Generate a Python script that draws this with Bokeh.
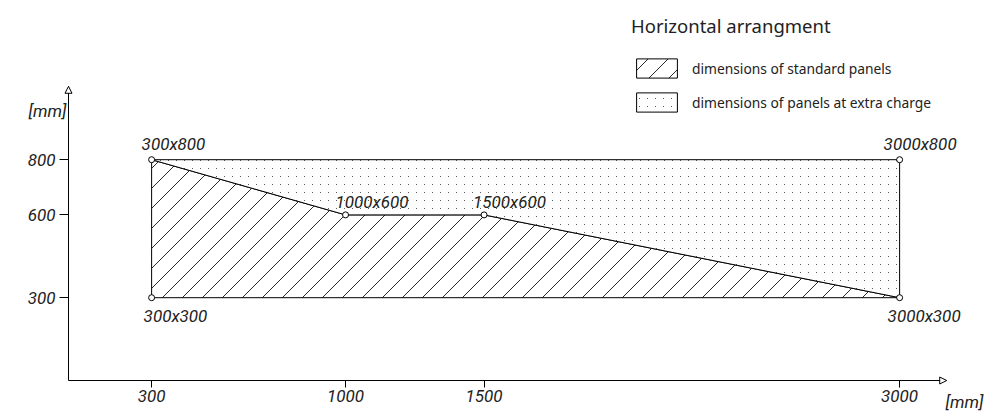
import zlib, struct, base64
from bokeh.plotting import figure
from bokeh.models import (Range1d, FixedTicker, Legend, LegendItem, Label, Arrow,
                          NormalHead, LinearAxis, ImageURLTexture)
from bokeh.core.properties import value
from bokeh.embed import file_html
from bokeh.resources import INLINE

# ---- data ----
x_ticks = [300, 1000, 1500, 3000]
y_ticks = [300, 600, 800]
standard_x = [300, 300, 1000, 1500, 3000]
standard_y = [300, 800, 600, 600, 300]
extra_x = [300, 3000, 3000, 1500, 1000]
extra_y = [800, 800, 300, 600, 600]
top_x = [300, 1000, 1500, 3000]
top_y = [800, 600, 600, 800]
top_labels = ["300x800", "1000x600", "1500x600", "3000x800"]
bottom_x = [300, 3000]
bottom_y = [300, 300]
bottom_labels = ["300x300", "3000x300"]
legend_title = "Horizontal arrangment"
series_names = ["dimensions of standard panels", "dimensions of panels at extra charge"]
axis_unit = "[mm]"
x_axis_end = 3170
y_axis_end = 1066

# ---- styles ----
top_dx = [-10, -10, -11, -16]
top_dy = [-16, -13, -13, -16]
bottom_dx = [-8, -12]
CADF = "Roboto"
CAD = value(CADF)
CAD_SIZE = "17px"
SANS = "Noto Sans"
INK = "#222222"

W, H = 995, 417
KX, KY = 0.27704, 0.276       # px per mm
OX, OY = 68, 380              # pixel position of the origin


def png_tile(size, on, rgba):
    """Small transparent PNG tile; pixels where on(row, col) is true get colour rgba."""
    rows = []
    for r in range(size):
        row = bytearray(b"\x00")
        for c in range(size):
            row += bytes(rgba) if on(r, c) else b"\x00\x00\x00\x00"
        rows.append(bytes(row))

    def chunk(t, d):
        return struct.pack(">I", len(d)) + t + d + struct.pack(">I", zlib.crc32(t + d) & 0xffffffff)

    png = (b"\x89PNG\r\n\x1a\n"
           + chunk(b"IHDR", struct.pack(">IIBBBBB", size, size, 8, 6, 0, 0, 0))
           + chunk(b"IDAT", zlib.compress(b"".join(rows)))
           + chunk(b"IEND", b""))
    return "data:image/png;base64," + base64.b64encode(png).decode()


diag_url = png_tile(20, lambda r, c: r + c == 19, (40, 40, 40, 255))
dots_url = png_tile(8, lambda r, c: r == 0 and c == 0, (90, 90, 90, 255))

p = figure(width=W, height=H, output_backend="svg", toolbar_location=None,
           x_range=Range1d(-OX / KX, (W - OX) / KX),
           y_range=Range1d(-(H - OY) / KY, OY / KY),
           x_axis_location=None, y_axis_location=None,
           min_border=0, outline_line_color=None, background_fill_color="white")
p.grid.visible = False

xax = LinearAxis(fixed_location=0, bounds=(0, x_axis_end), ticker=FixedTicker(ticks=x_ticks))
yax = LinearAxis(fixed_location=0, bounds=(0, y_axis_end), ticker=FixedTicker(ticks=y_ticks))
for ax in (xax, yax):
    ax.minor_tick_line_color = None
    ax.major_tick_in = 0
    ax.axis_line_color = "black"
    ax.major_tick_line_color = "black"
    ax.major_label_text_font = CADF
    ax.major_label_text_font_style = "italic"
    ax.major_label_text_font_size = CAD_SIZE
    ax.major_label_text_color = INK
xax.major_tick_out = 7
xax.major_label_standoff = 2
yax.major_tick_out = 9
yax.major_label_standoff = 4
p.add_layout(xax, "below")
p.add_layout(yax, "left")

std = p.patch(standard_x, standard_y, fill_color="white", line_color="black", line_width=1,
              hatch_pattern="diag",
              hatch_extra={"diag": ImageURLTexture(url=diag_url, repetition="repeat")})
ext = p.patch(extra_x, extra_y, fill_color="white", line_color="black", line_width=1,
              hatch_pattern="dots",
              hatch_extra={"dots": ImageURLTexture(url=dots_url, repetition="repeat")})

p.scatter(top_x + bottom_x, top_y + bottom_y, size=6, marker="circle",
          fill_color="white", line_color="black", line_width=1)

p.text(x=top_x, y=top_y, text=top_labels, x_offset=top_dx, y_offset=top_dy,
       text_font=CAD, text_font_style="italic", text_font_size=CAD_SIZE,
       text_color=INK, text_align="left", text_baseline="alphabetic")
p.text(x=bottom_x, y=bottom_y, text=bottom_labels, x_offset=bottom_dx, y_offset=8,
       text_font=CAD, text_font_style="italic", text_font_size=CAD_SIZE,
       text_color=INK, text_align="left", text_baseline="top")

# axis arrows
p.add_layout(Arrow(x_start=x_axis_end - 60, y_start=0, x_end=x_axis_end, y_end=0,
                   line_color="black",
                   end=NormalHead(size=7, fill_color="white", line_color="black", line_width=1)))
p.add_layout(Arrow(x_start=0, y_start=y_axis_end - 60, x_end=0, y_end=y_axis_end,
                   line_color="black",
                   end=NormalHead(size=7, fill_color="white", line_color="black", line_width=1)))

p.add_layout(Label(x=3234, y=-79, text=axis_unit, text_font=CADF,
                   text_font_style="italic", text_font_size=CAD_SIZE, text_color=INK,
                   text_align="center", text_baseline="middle"))
p.add_layout(Label(x=-76, y=975, text=axis_unit, text_font=CADF,
                   text_font_style="italic", text_font_size=CAD_SIZE, text_color=INK,
                   text_align="center", text_baseline="middle"))

legend = Legend(items=[LegendItem(label=series_names[0], renderers=[std]),
                       LegendItem(label=series_names[1], renderers=[ext])],
                title=legend_title, location=(631, H - 114), padding=0, margin=0,
                border_line_color=None, background_fill_alpha=0,
                glyph_width=51, glyph_height=24, label_height=24,
                label_standoff=10, spacing=10,
                title_text_font=SANS, title_text_font_size="18.5px", title_text_font_style="normal",
                title_text_color=INK, title_standoff=18,
                label_text_font=SANS, label_text_font_size="13.8px", label_text_color=INK)
p.add_layout(legend, "center")

open("out.html", "w").write(file_html(p, INLINE))
